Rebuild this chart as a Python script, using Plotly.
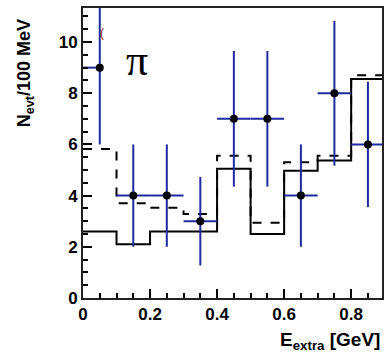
import plotly.graph_objects as go

# Data
bin_centers = [0.05, 0.15, 0.25, 0.35, 0.45, 0.55, 0.65, 0.75, 0.85]
data_counts = [9, 4, 4, 3, 7, 7, 4, 8, 6]
data_err = [3.0, 2.0, 2.0, 1.73, 2.65, 2.65, 2.0, 2.83, 2.45]
xerr_plus = [0.0, 0.05, 0.05, 0.05, 0.05, 0.05, 0.05, 0.05, 0.05]
xerr_minus = [0.05, 0.05, 0.05, 0.05, 0.05, 0.05, 0.05, 0.05, 0.05]

bin_edges = [0.0, 0.1, 0.2, 0.3, 0.4, 0.5, 0.6, 0.7, 0.8, 0.9]
solid_hist = [2.6, 2.1, 2.6, 2.6, 5.05, 2.5, 4.97, 5.37, 8.56]
dashed_hist = [5.82, 3.70, 3.53, 3.28, 5.56, 2.94, 5.30, 5.56, 8.70]

x_ticks = [0, 0.2, 0.4, 0.6, 0.8]
x_ticklabels = ["0", "0.2", "0.4", "0.6", "0.8"]
y_ticks = [0, 2, 4, 6, 8, 10]
y_ticklabels = ["0", "2", "4", "6", "8", "10"]

fig = go.Figure()

fig.add_trace(go.Scatter(
    x=bin_edges, y=dashed_hist + [dashed_hist[-1]],
    mode="lines", line=dict(shape="hv", color="black", width=2, dash="dash"),
    showlegend=False, hoverinfo="skip"))
fig.add_trace(go.Scatter(
    x=bin_edges, y=solid_hist + [solid_hist[-1]],
    mode="lines", line=dict(shape="hv", color="black", width=2),
    showlegend=False, hoverinfo="skip"))
fig.add_trace(go.Scatter(
    x=bin_centers, y=data_counts, mode="markers",
    marker=dict(color="black", size=8),
    error_y=dict(type="data", array=data_err, color="#1f2a9e", thickness=2, width=0),
    error_x=dict(type="data", array=xerr_plus, arrayminus=xerr_minus, symmetric=False,
                 color="#1f2a9e", thickness=2, width=0),
    showlegend=False))

tickfont = dict(family="Liberation Sans", size=17, color="black", weight="bold")

fig.update_layout(
    width=386, height=354,
    margin=dict(l=83, r=2, t=8, b=56),
    paper_bgcolor="white", plot_bgcolor="white",
    xaxis=dict(range=[0, 0.892], tickvals=x_ticks, ticktext=x_ticklabels,
               ticks="inside", ticklen=9, tickwidth=2, tickcolor="black",
               showline=True, linewidth=2, linecolor="#222", mirror=True,
               showgrid=False, zeroline=False, tickfont=tickfont,
               minor=dict(dtick=0.05, ticks="inside", ticklen=5, tickwidth=2, tickcolor="black")),
    yaxis=dict(range=[0, 11.33], tickvals=y_ticks, ticktext=y_ticklabels,
               ticks="inside", ticklen=9, tickwidth=2, tickcolor="black",
               showline=True, linewidth=2, linecolor="#222", mirror=True,
               showgrid=False, zeroline=False, tickfont=tickfont,
               minor=dict(dtick=0.5, ticks="inside", ticklen=5, tickwidth=2, tickcolor="black")),
)

fig.add_annotation(x=0.16, y=9.26, xref="x", yref="y", text="π", showarrow=False,
                   font=dict(family="Liberation Serif", size=44, color="black"))
fig.add_annotation(x=0.056, y=10.35, xref="x", yref="y", text="(", showarrow=False,
                   font=dict(family="Liberation Sans", size=12, color="#8b1a1a"))
fig.add_annotation(x=-0.19, y=0.776, xref="paper", yref="paper", textangle=-90,
                   xanchor="center", yanchor="middle",
                   text="<b>N<sub>evt</sub>/100 MeV</b>", showarrow=False,
                   font=dict(family="Liberation Sans", size=18, color="black"))
fig.add_annotation(x=1.0, y=-0.197, xref="paper", yref="paper", xanchor="right", yanchor="bottom",
                   text="<b>E<sub>extra</sub> [GeV]</b>", showarrow=False,
                   font=dict(family="Liberation Sans", size=19, color="black"))

fig.write_html("out.html")
